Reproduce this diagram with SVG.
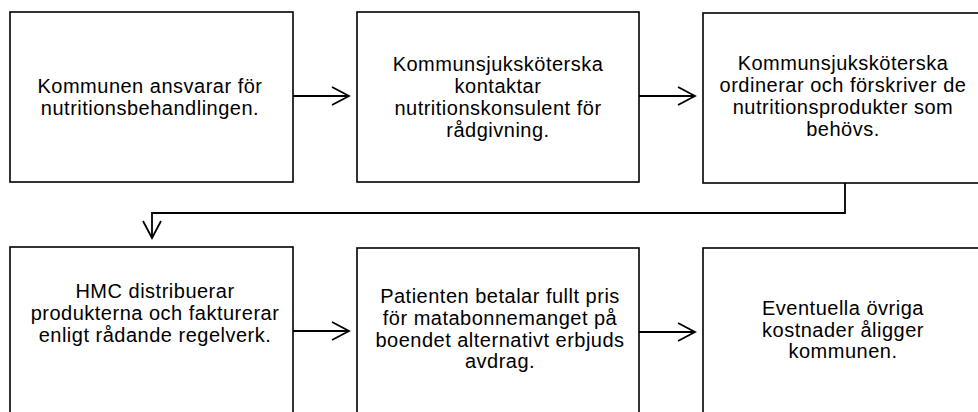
<svg xmlns="http://www.w3.org/2000/svg" width="978" height="412" viewBox="0 0 978 412">
<style>
.box{fill:#fff;stroke:#000;stroke-width:1.6}
.t{font-family:"Liberation Sans",Arial,sans-serif;font-size:20px;letter-spacing:0.5px;text-anchor:middle;fill:#000}
.c{fill:none;stroke:#000;stroke-width:1.8}
</style>
<defs>
<marker id="ah" markerUnits="userSpaceOnUse" markerWidth="22" markerHeight="24" viewBox="-2 -2 22 24" refX="17" refY="9" orient="auto">
<path d="M0,0 L17,9 L0,18" fill="none" stroke="#000" stroke-width="1.8"/>
</marker>
</defs>
<rect width="978" height="412" fill="#fff"/>
<g id="n1">
<rect class="box" x="10" y="12" width="283" height="170"/>
<text class="t" x="150" y="93">Kommunen ansvarar för</text>
<text class="t" x="150" y="115">nutritionsbehandlingen.</text>
</g>
<g id="n2">
<rect class="box" x="357" y="12" width="282" height="170"/>
<text class="t" x="498" y="71">Kommunsjuksköterska</text>
<text class="t" x="498" y="93">kontaktar</text>
<text class="t" x="498" y="115">nutritionskonsulent för</text>
<text class="t" x="498" y="137">rådgivning.</text>
</g>
<g id="n3">
<rect class="box" x="703" y="13" width="290" height="170"/>
<text class="t" x="843" y="70">Kommunsjuksköterska</text>
<text class="t" x="843" y="92">ordinerar och förskriver de</text>
<text class="t" x="843" y="114">nutritionsprodukter som</text>
<text class="t" x="843" y="136">behövs.</text>
</g>
<g id="n4">
<rect class="box" x="10" y="247" width="283" height="180"/>
<text class="t" x="155" y="298">HMC distribuerar</text>
<text class="t" x="155" y="320">produkterna och fakturerar</text>
<text class="t" x="155" y="342">enligt rådande regelverk.</text>
</g>
<g id="n5">
<rect class="box" x="357" y="248" width="282" height="180"/>
<text class="t" x="500" y="303">Patienten betalar fullt pris</text>
<text class="t" x="500" y="325">för matabonnemanget på</text>
<text class="t" x="500" y="347">boendet alternativt erbjuds</text>
<text class="t" x="500" y="368">avdrag.</text>
</g>
<g id="n6">
<rect class="box" x="703" y="248" width="290" height="180"/>
<text class="t" x="843" y="315">Eventuella övriga</text>
<text class="t" x="843" y="337">kostnader åligger</text>
<text class="t" x="843" y="358">kommunen.</text>
</g>
<g id="connectors">
<path class="c" d="M293,96 H349" marker-end="url(#ah)"/>
<path class="c" d="M639,96 H695" marker-end="url(#ah)"/>
<path class="c" d="M845,183 V213 H152 V238" marker-end="url(#ah)"/>
<path class="c" d="M293,331 H349" marker-end="url(#ah)"/>
<path class="c" d="M639,332 H695" marker-end="url(#ah)"/>
</g>
</svg>
